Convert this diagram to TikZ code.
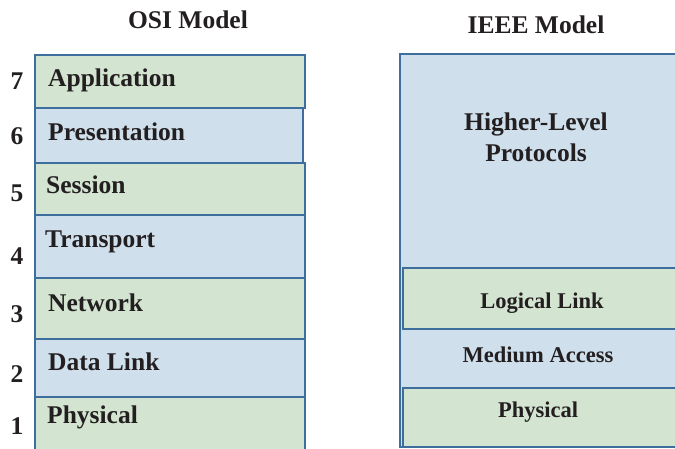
\documentclass[tikz,border=0pt]{standalone}
\usepackage{fontspec}
\setmainfont{Liberation Serif}
\definecolor{layergreen}{HTML}{D3E4D0}
\definecolor{layerblue}{HTML}{CFE0EC}
\definecolor{layeredge}{HTML}{3E6E9E}
\definecolor{labeltext}{HTML}{231F20}
\tikzset{
  greenlayer/.style={fill=layergreen, draw=layeredge, line width=1.6pt},
  bluelayer/.style={fill=layerblue, draw=layeredge, line width=1.6pt},
  big/.style={font=\bfseries\fontsize{25.5}{29}\selectfont, text=labeltext, inner sep=0pt},
  small/.style={font=\bfseries\fontsize{22.5}{26}\selectfont, text=labeltext, inner sep=0pt},
  numlabel/.style={big, anchor=base},
  osilabel/.style={big, anchor=base west},
}
\begin{document}
\begin{tikzpicture}[x=1pt, y=-1pt]
\useasboundingbox (0,0) rectangle (675,448);
\clip (0,0) rectangle (675,448);

% OSI stack
\draw[greenlayer] (35,55)  rectangle (305,108);
\draw[bluelayer]  (35,108) rectangle (303,163);
\draw[greenlayer] (35,163) rectangle (305,215);
\draw[bluelayer]  (35,215) rectangle (305,278);
\draw[greenlayer] (35,278) rectangle (305,339);
\draw[bluelayer]  (35,339) rectangle (305,397);
\draw[greenlayer] (35,397) rectangle (305,452);

\node[big, anchor=base] (osititle) at (188,28) {OSI Model};

\node[osilabel] (app)  at (48,86.5)  {Application};
\node[osilabel] (pres) at (48,140)   {Presentation};
\node[osilabel] (sess) at (46,193)   {Session};
\node[osilabel] (trans) at (45,247)  {Transport};
\node[osilabel] (net)  at (48,311.5) {Network};
\node[osilabel] (dl)   at (48,370)   {Data Link};
\node[osilabel] (phys) at (47,423)   {Physical};

\node[numlabel] (n7) at (17,89)  {7};
\node[numlabel] (n6) at (17,144) {6};
\node[numlabel] (n5) at (17,201) {5};
\node[numlabel] (n4) at (17,264) {4};
\node[numlabel] (n3) at (17,322) {3};
\node[numlabel] (n2) at (17,382) {2};
\node[numlabel] (n1) at (17,434) {1};

% IEEE stack
\draw[bluelayer]  (400,54)  rectangle (682,447);
\draw[greenlayer] (403,268) rectangle (682,329);
\draw[greenlayer] (403,388) rectangle (682,447);

\node[big, anchor=base] (ieeetitle) at (536,33) {IEEE Model};

\node[big, anchor=base] (hl1) at (536,130) {Higher-Level};
\node[big, anchor=base] (hl2) at (536,161) {Protocols};
\node[small, anchor=base] (llc) at (542,308) {Logical Link};
\node[small, anchor=base] (mac) at (538,362) {Medium Access};
\node[small, anchor=base] (iphys) at (538,417) {Physical};
\end{tikzpicture}
\end{document}
